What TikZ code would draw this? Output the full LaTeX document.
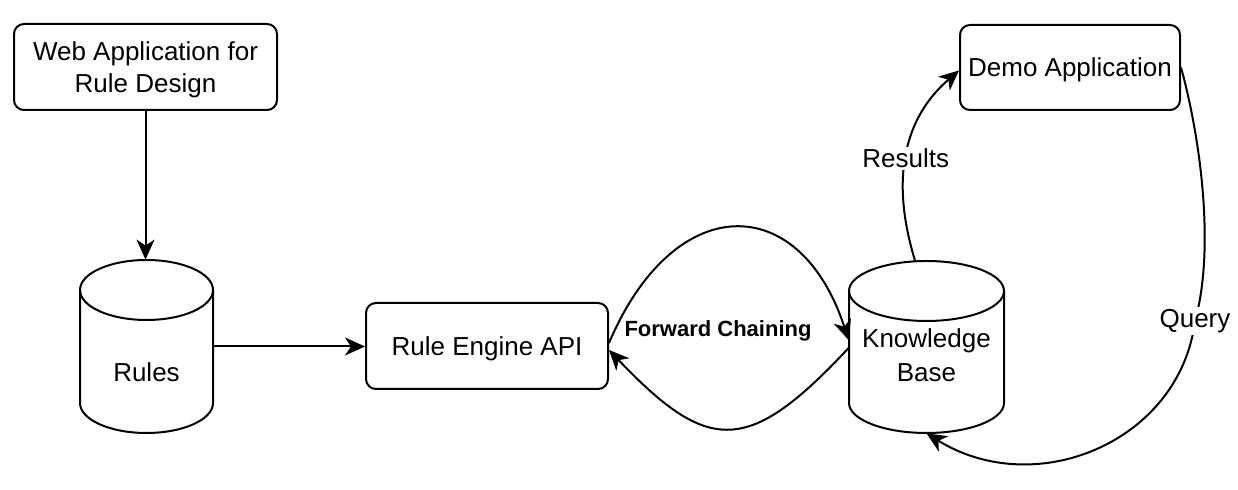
\documentclass[tikz,border=0pt]{standalone}
\usepackage{fontspec}
\setmainfont{Liberation Sans}
\usetikzlibrary{arrows.meta}
\begin{document}
\begin{tikzpicture}[x=0.5pt,y=-0.5pt,
  box/.style={draw, line width=1pt, rounded corners=5pt, inner sep=0pt,
    font=\fontsize{13pt}{16pt}\selectfont, align=center, text depth=0pt},
  dbarea/.style={inner sep=0pt, draw=none},
  txt/.style={font=\fontsize{13pt}{16pt}\selectfont, inner sep=0pt},
  lbl/.style={font=\fontsize{13pt}{16pt}\selectfont, inner sep=1pt, fill=white},
  conn/.style={line width=1pt, -{Stealth[length=10pt,width=9pt,inset=3pt]}},
  cyl/.style={line width=1pt}
]
\fill[white] (0,0) rectangle (1238,490);
\useasboundingbox (0,0) rectangle (1238,490);

% boxes
\node[box, minimum width=131.5pt, minimum height=43pt] (web) at (145.5,67) {Web Application for\\Rule Design};
\node[box, minimum width=121pt, minimum height=43pt] (engine) at (487,346) {Rule Engine API};
\node[box, minimum width=110pt, minimum height=42.5pt] (demo) at (1070,67.5) {Demo Application};

% Rules cylinder
\node[dbarea, minimum width=66.5pt, minimum height=86.5pt] (rules) at (146.5,346.5) {};
\draw[cyl] (146.5,290) ellipse[x radius=66.5, y radius=30];
\draw[cyl] (80,290) -- (80,403) arc[start angle=180, end angle=0, x radius=66.5, y radius=30] -- (213,290);
\node[txt, anchor=base] (rulestxt) at (146.5,382) {Rules};

% Knowledge Base cylinder
\node[dbarea, minimum width=77.5pt, minimum height=86pt] (kb) at (926.5,347) {};
\draw[cyl] (926.5,291) ellipse[x radius=77.5, y radius=30];
\draw[cyl] (849,291) -- (849,403) arc[start angle=180, end angle=0, x radius=77.5, y radius=30] -- (1004,291);
\node[txt, anchor=base] (kbtxta) at (926.5,348) {Knowledge};
\node[txt, anchor=base] (kbtxtb) at (926.5,382) {Base};

% connectors
\draw[conn] (web.south) -- (web.south |- rules.north);
\draw[conn] (rules.east) -- (rules.east -| engine.west);

\draw[conn] ([yshift=1.5pt]engine.east) .. controls +(65,-153) and +(-49,-150) .. ([yshift=3.5pt]kb.west);
\draw[conn] ([yshift=-0.5pt]kb.west) .. controls +(-100,107) and +(100,105) .. ([yshift=-2pt]engine.east);

\node[font=\bfseries\fontsize{11pt}{13pt}\selectfont, inner sep=0pt, anchor=base] (fc) at (718,337) {Forward Chaining};

\draw[conn] ([xshift=-5.75pt]kb.north) .. controls +(-25,-82) and +(-55,47.5) .. node[lbl, pos=0.47] (results) {Results} ([yshift=-1.5pt]demo.west);

\draw[conn] (demo.east) .. controls +(20,72.5) and +(20,-71) .. (1195,321) node[lbl] (query) {Query}
  .. controls +(-15,120) and +(110,68) .. (kb.south);
\end{tikzpicture}
\end{document}
